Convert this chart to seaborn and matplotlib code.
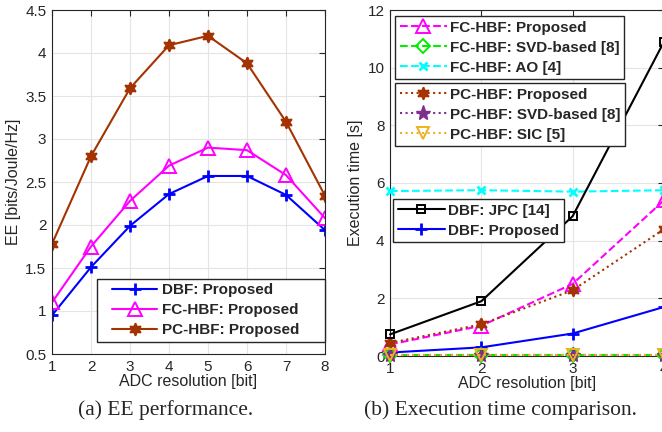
import numpy as np
import matplotlib
matplotlib.use('Agg')
import matplotlib.pyplot as plt
import seaborn as sns
from matplotlib.lines import Line2D
from matplotlib.legend_handler import HandlerLine2D

# (a) energy efficiency vs ADC resolution
bits = [1, 2, 3, 4, 5, 6, 7, 8]
ee_dbf = [0.95, 1.51, 1.99, 2.36, 2.57, 2.57, 2.35, 1.94]
ee_fc = [1.10, 1.75, 2.28, 2.69, 2.90, 2.87, 2.58, 2.08]
ee_pc = [1.78, 2.80, 3.59, 4.09, 4.20, 3.88, 3.20, 2.34]

# (b) execution time vs ADC resolution (visible part)
bits_t = [1, 2, 3, 4]
t_fc_prop = [0.40, 1.05, 2.50, 5.40]
t_fc_svd = [0.03, 0.03, 0.03, 0.03]
t_fc_ao = [5.72, 5.75, 5.70, 5.75]
t_pc_prop = [0.45, 1.10, 2.28, 4.40]
t_pc_svd = [0.02, 0.02, 0.02, 0.02]
t_pc_sic = [0.03, 0.03, 0.03, 0.03]
t_dbf_jpc = [0.75, 1.90, 4.85, 10.90]
t_dbf_prop = [0.12, 0.30, 0.78, 1.70]

sns.set_theme(style='whitegrid')
plt.rcParams['font.family'] = ['Liberation Sans', 'DejaVu Sans']

blue = '#0000FF'
magenta = '#FF00FF'
brown = '#A33300'
green = '#00EE00'
cyan = '#00FFFF'
purple = '#7E2F8E'
orange = '#EDB120'
lw = 1.5

# line styles: color, linestyle, marker, size, edge width, filled
sty = {
    'dbf': dict(color=blue, linestyle='-', marker='+', markersize=9, markeredgewidth=2, filled=True),
    'fc': dict(color=magenta, linestyle='--', marker='^', markersize=10, markeredgewidth=1.4, filled=False),
    'pc': dict(color=brown, linestyle=':', marker=(6, 1, 0), markersize=9, markeredgewidth=1.2, filled=True),
    'fc_svd': dict(color=green, linestyle='--', marker='D', markersize=7, markeredgewidth=1.4, filled=False),
    'ao': dict(color=cyan, linestyle='--', marker='x', markersize=6, markeredgewidth=2, filled=True),
    'pc_svd': dict(color=purple, linestyle=':', marker='*', markersize=11, markeredgewidth=1, filled=True),
    'sic': dict(color=orange, linestyle=':', marker='v', markersize=9, markeredgewidth=1.4, filled=False),
    'jpc': dict(color='black', linestyle='-', marker='s', markersize=6, markeredgewidth=1.4, filled=False),
}


def kw(name, ls=None):
    s = dict(sty[name])
    filled = s.pop('filled')
    if ls is not None:
        s['linestyle'] = ls
    s['markeredgecolor'] = s['color']
    s['markerfacecolor'] = s['color'] if filled else 'none'
    s['linewidth'] = lw
    return s


def handle(name, ls=None):
    return Line2D([], [], **kw(name, ls))


def style_axes(ax):
    ax.grid(True, color='#e4e4e4', linewidth=0.8)
    for s in ax.spines.values():
        s.set_visible(True)
        s.set_color('#262626')
        s.set_linewidth(0.8)
    ax.tick_params(direction='in', length=4, width=0.8, labelsize=11,
                   top=True, right=True, pad=4, colors='#262626')


fig = plt.figure(figsize=(6.62, 4.32), dpi=100)
ax1 = fig.add_axes([52 / 662, 78 / 432, 273 / 662, 344 / 432])
ax2 = fig.add_axes([390 / 662, 76 / 432, 274 / 662, 346 / 432])

sns.lineplot(x=bits, y=ee_dbf, ax=ax1, **kw('dbf'))
sns.lineplot(x=bits, y=ee_fc, ax=ax1, **kw('fc', '-'))
sns.lineplot(x=bits, y=ee_pc, ax=ax1, **kw('pc', '-'))
style_axes(ax1)
ax1.set_xlim(1, 8)
ax1.set_ylim(0.5, 4.5)
ax1.set_xticks(bits)
ax1.set_yticks([0.5, 1, 1.5, 2, 2.5, 3, 3.5, 4, 4.5])
ax1.set_yticklabels(['0.5', '1', '1.5', '2', '2.5', '3', '3.5', '4', '4.5'])
ax1.set_xlabel('ADC resolution [bit]', fontsize=11.5, labelpad=0, color='#262626')
ax1.set_ylabel('EE [bits/Joule/Hz]', fontsize=11.5, labelpad=3, color='#262626')

leg_kw = dict(prop={'weight': 'bold', 'size': 11}, fancybox=False,
              edgecolor='#262626', framealpha=1, borderpad=0.3, labelspacing=0.4,
              borderaxespad=0)

ax1.legend([handle('dbf'), handle('fc', '-'), handle('pc', '-')],
           ['DBF: Proposed', 'FC-HBF: Proposed', 'PC-HBF: Proposed'],
           loc='lower left', bbox_to_anchor=(45 / 273, 12 / 344, 228 / 273, 65 / 344),
           mode='expand', handlelength=3.63, handletextpad=0.3,
           handler_map={Line2D: HandlerLine2D(xpad=0.68)}, **leg_kw)

for name, vals in [('ao', t_fc_ao), ('dbf', t_dbf_prop), ('fc', t_fc_prop),
                   ('pc', t_pc_prop), ('jpc', t_dbf_jpc), ('fc_svd', t_fc_svd),
                   ('pc_svd', t_pc_svd), ('sic', t_pc_sic)]:
    sns.lineplot(x=bits_t, y=vals, ax=ax2, clip_on=False, zorder=3, **kw(name))
style_axes(ax2)
ax2.set_xlim(1, 4)
ax2.set_ylim(0, 12)
ax2.set_xticks(bits_t)
ax2.set_yticks([0, 2, 4, 6, 8, 10, 12])
ax2.set_xlabel('ADC resolution [bit]', fontsize=11.5, labelpad=0, color='#262626')
ax2.set_ylabel('Execution time [s]', fontsize=11.5, labelpad=3, color='#262626')

rkw = dict(handlelength=3.1, handletextpad=0.2, **leg_kw)
lg1 = ax2.legend([handle('fc'), handle('fc_svd'), handle('ao')],
                 ['FC-HBF: Proposed', 'FC-HBF: SVD-based [8]', 'FC-HBF: AO [4]'],
                 loc='upper left', bbox_to_anchor=(5 / 274, 1 - 6 / 346), **rkw)
ax2.add_artist(lg1)
lg2 = ax2.legend([handle('pc'), handle('pc_svd'), handle('sic')],
                 ['PC-HBF: Proposed', 'PC-HBF: SVD-based [8]', 'PC-HBF: SIC [5]'],
                 loc='upper left', bbox_to_anchor=(5 / 274, 1 - 73 / 346), **rkw)
ax2.add_artist(lg2)
ax2.legend([handle('jpc'), handle('dbf')], ['DBF: JPC [14]', 'DBF: Proposed'],
           loc='upper left', bbox_to_anchor=(3 / 274, 1 - 189 / 346), **rkw)

fig.text(166 / 662, 1 - 410 / 432, '(a) EE performance.', ha='center', va='center',
         family='Liberation Serif', fontsize=15.5, color='#262626')
fig.text(500 / 662, 1 - 410 / 432, '(b) Execution time comparison.', ha='center', va='center',
         family='Liberation Serif', fontsize=15.5, color='#262626')

fig.savefig('out.png', dpi=100)
